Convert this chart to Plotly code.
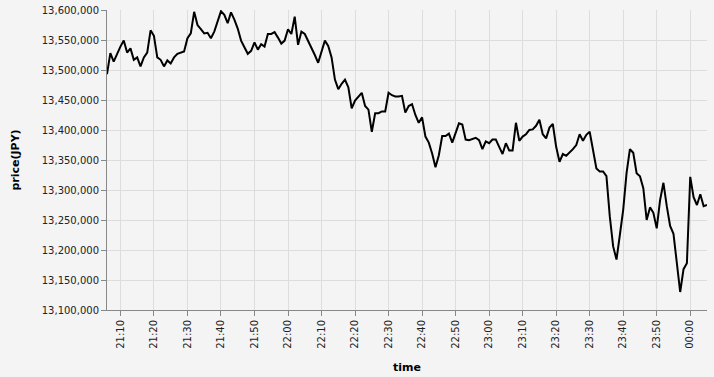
import plotly.graph_objects as go
import pandas as pd

start_time = "2021-01-01 21:06"
prices = [
    13493000, 13528000, 13514000, 13528000, 13539000, 13549000, 13529000, 13536000, 13517000, 13521000,
    13506000, 13521000, 13529000, 13566000, 13557000, 13521000, 13517000, 13506000, 13516000, 13511000,
    13521000, 13527000, 13529000, 13531000, 13553000, 13561000, 13597000, 13575000, 13568000, 13561000,
    13562000, 13553000, 13564000, 13583000, 13598000, 13592000, 13578000, 13596000, 13584000, 13569000,
    13549000, 13538000, 13527000, 13532000, 13546000, 13534000, 13543000, 13539000, 13560000, 13560000,
    13563000, 13554000, 13544000, 13549000, 13568000, 13560000, 13589000, 13542000, 13564000, 13560000,
    13549000, 13538000, 13525000, 13512000, 13529000, 13549000, 13540000, 13521000, 13484000, 13468000,
    13477000, 13484000, 13471000, 13436000, 13449000, 13456000, 13462000, 13440000, 13434000, 13397000,
    13428000, 13428000, 13431000, 13431000, 13462000, 13458000, 13456000, 13456000, 13457000, 13429000,
    13440000, 13443000, 13425000, 13412000, 13421000, 13389000, 13379000, 13361000, 13338000, 13358000,
    13390000, 13390000, 13394000, 13379000, 13397000, 13411000, 13409000, 13384000, 13383000, 13385000,
    13387000, 13383000, 13368000, 13381000, 13378000, 13384000, 13384000, 13372000, 13360000, 13378000,
    13366000, 13366000, 13412000, 13382000, 13389000, 13393000, 13400000, 13401000, 13407000, 13417000,
    13393000, 13386000, 13404000, 13410000, 13372000, 13347000, 13360000, 13357000, 13362000, 13368000,
    13375000, 13393000, 13382000, 13392000, 13397000, 13367000, 13336000, 13331000, 13331000, 13323000,
    13256000, 13206000, 13184000, 13225000, 13267000, 13328000, 13368000, 13362000, 13328000, 13323000,
    13303000, 13250000, 13271000, 13262000, 13236000, 13283000, 13312000, 13273000, 13240000, 13227000,
    13183000, 13130000, 13168000, 13178000, 13322000, 13288000, 13275000, 13293000, 13273000, 13275000,
]
times = pd.date_range(start_time, periods=len(prices), freq="min")

y_min, y_max, y_step = 13100000, 13600000, 50000
x_tick0 = "2021-01-01 21:10"

BG = "#f4f4f4"
FONT = "DejaVu Sans, sans-serif"

fig = go.Figure(go.Scatter(x=times, y=prices, mode="lines",
                           line=dict(color="#000000", width=2), hoverinfo="skip"))

fig.update_layout(
    width=714, height=377,
    margin=dict(l=107, r=7, t=10, b=67),
    paper_bgcolor=BG, plot_bgcolor=BG,
    font=dict(family=FONT, size=10, color="#222"),
    showlegend=False,
)
fig.update_xaxes(
    type="date", range=[times[0], times[-1]],
    tickformat="%H:%M", tick0=x_tick0, dtick=600000, tickangle=-90,
    showgrid=True, gridcolor="#dddddd", gridwidth=1,
    showline=True, linecolor="#888888", linewidth=1,
    ticks="outside", ticklen=5, tickcolor="#888888",
    zeroline=False, automargin=False,
    title=dict(text="time", font=dict(family=FONT, size=11, weight="bold", color="#000"), standoff=15),
)
fig.update_yaxes(
    range=[y_min, y_max], tick0=y_min, dtick=y_step, tickformat=",d",
    showgrid=True, gridcolor="#dddddd", gridwidth=1,
    showline=True, linecolor="#888888", linewidth=1,
    ticks="outside", ticklen=5, tickcolor="#888888",
    zeroline=False, automargin=False,
    title=dict(text="price(JPY)", font=dict(family=FONT, size=11, weight="bold", color="#000"), standoff=19),
)

fig.write_html("out.html")
